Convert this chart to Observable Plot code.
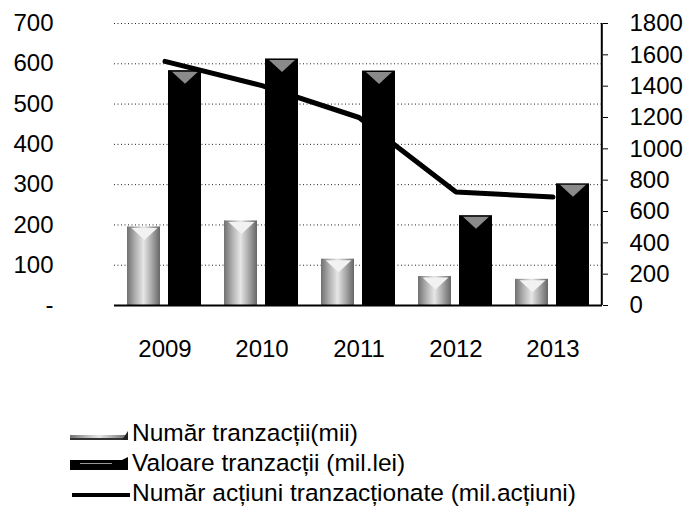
<!DOCTYPE html>
<html><head><meta charset="utf-8">
<script src="https://cdn.jsdelivr.net/npm/d3@7"></script>
<script src="https://cdn.jsdelivr.net/npm/@observablehq/plot@0.6"></script>
<style>
body{margin:0;background:#fff;font-family:"Liberation Sans",Arial,sans-serif;}
#wrap{position:relative;width:687px;height:515px;overflow:hidden;}
#legend{position:absolute;left:0;top:418px;font-size:24.5px;color:#000;}
.row{position:relative;height:30px;line-height:30px;white-space:nowrap;}
.sw{position:absolute;left:70px;top:0;height:30px;}
.lab{position:absolute;left:132px;top:0;}
</style></head><body>
<svg width="0" height="0" style="position:absolute">
  <defs>
    <linearGradient id="grayTex" x1="0" x2="1" y1="0" y2="0">
      <stop offset="0%" stop-color="#707070"/>
      <stop offset="25%" stop-color="#b0b0b0"/>
      <stop offset="50%" stop-color="#e6e6e6"/>
      <stop offset="75%" stop-color="#a8a8a8"/>
      <stop offset="100%" stop-color="#666666"/>
    </linearGradient>
  </defs>
</svg>
<div id="wrap">
<div id="chart"></div>
<div id="legend"></div>
</div>
<script>
const years = ["2009", "2010", "2011", "2012", "2013"];
const numarTranzactii = [195, 210, 115, 72, 65];
const valoareTranzactii = [583, 612, 582, 223, 302];
const numarActiuni = [1558, 1403, 1200, 725, 692];
const leftTicks = [0, 100, 200, 300, 400, 500, 600, 700];
const rightTicks = [0, 200, 400, 600, 800, 1000, 1200, 1400, 1600, 1800];
const seriesNames = ["Număr tranzacții(mii)", "Valoare tranzacții (mil.lei)", "Număr acțiuni tranzacționate (mil.acțiuni)"];

const k = 700 / 1800;
const rows = years.map((y, i) => ({year: y, nt: numarTranzactii[i], vt: valoareTranzactii[i], na: numarActiuni[i] * k}));

// flat inverted triangle (the 3D cap seen on the bars)
const capSymbol = {draw(ctx) { ctx.moveTo(-13, 0); ctx.lineTo(13, 0); ctx.lineTo(0, 12); ctx.closePath(); }};

const chart = Plot.plot({
  width: 687, height: 370,
  marginLeft: 114, marginRight: 85, marginTop: 23, marginBottom: 65,
  style: {fontFamily: "Liberation Sans, Arial, sans-serif", fontSize: "24px", color: "#000", background: "#fff"},
  x: {domain: years, padding: 0, label: null},
  y: {domain: [0, 700], label: null},
  marks: [
    Plot.gridY(leftTicks.slice(1), {stroke: "#222", strokeOpacity: 1, strokeDasharray: "1,2.5"}),
    Plot.axisY(leftTicks, {anchor: "left", tickSize: 0, tickPadding: 61, fontSize: 24, tickFormat: d => d === 0 ? "-" : String(d), label: null}),
    Plot.axisY(rightTicks.map(v => v * k), {anchor: "right", tickSize: 5, tickPadding: 22, fontSize: 24, tickFormat: v => String(Math.round(v / k)), label: null}),
    Plot.axisX({tickSize: 0, tickPadding: 34, fontSize: 24, label: null}),
    Plot.barY(rows, {x: "year", y: "nt", fill: "url(#grayTex)", insetLeft: 11, insetRight: 53}),
    Plot.dot(rows, {x: "year", y: "nt", symbol: capSymbol, r: 3, fill: "#f2f2f2", dx: -20.5, dy: 1}),
    Plot.barY(rows, {x: "year", y: "vt", fill: "#000", insetLeft: 52, insetRight: 12}),
    Plot.dot(rows, {x: "year", y: "vt", symbol: capSymbol, r: 3, fill: "#8a8a8a", dx: 20, dy: 1}),
    Plot.ruleY([0], {stroke: "#000", strokeWidth: 2}),
    Plot.ruleX([years[years.length - 1]], {dx: 48.8, y1: 0, y2: 700, stroke: "#000", strokeWidth: 2}),
    Plot.line(rows, {x: "year", y: "na", stroke: "#000", strokeWidth: 5, strokeLinejoin: "round"})
  ]
});
document.getElementById("chart").appendChild(chart);

const legend = document.getElementById("legend");
const swatches = [
  '<svg width="60" height="30"><rect x="0" y="17" width="58" height="5" fill="url(#grayTex)"/><rect x="0" y="20" width="58" height="2" fill="#333"/><polygon points="52,22 58,13 58,22" fill="#222"/></svg>',
  '<svg width="60" height="30"><rect x="0" y="12" width="58" height="10" fill="#000"/><rect x="10" y="15" width="32" height="1" fill="#999"/><polygon points="52,12 58,9 58,12" fill="#000"/></svg>',
  '<svg width="60" height="30"><line x1="2" x2="60" y1="17" y2="17" stroke="#000" stroke-width="4"/></svg>'
];
seriesNames.forEach((name, i) => {
  const r = document.createElement("div");
  r.className = "row";
  r.innerHTML = `<span class="sw">${swatches[i]}</span><span class="lab">${name}</span>`;
  legend.appendChild(r);
});
</script>
</body></html>
